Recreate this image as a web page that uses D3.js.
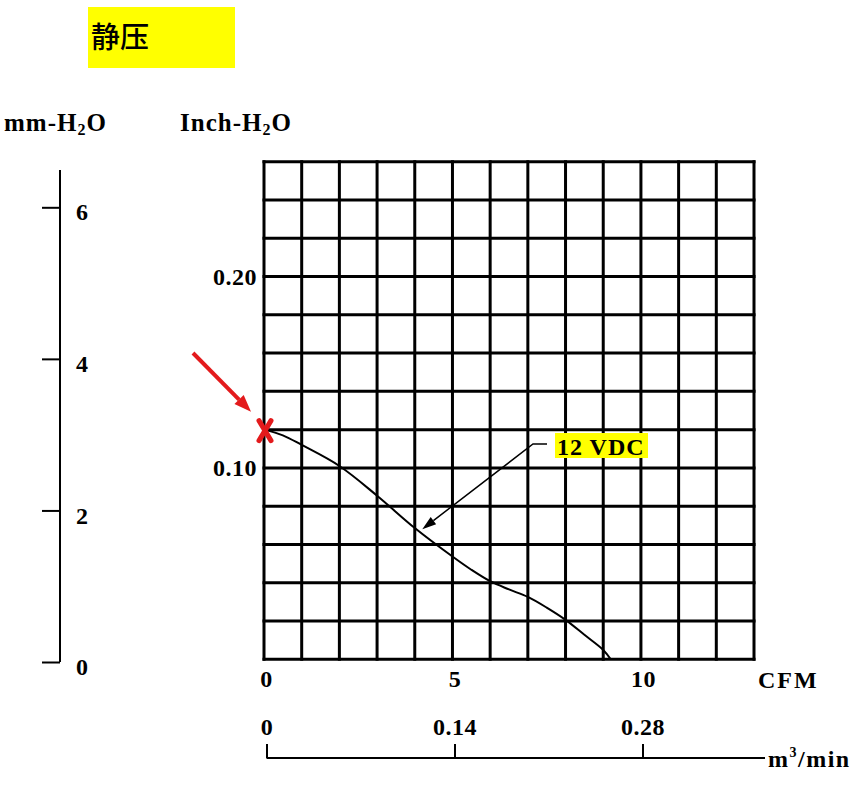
<!DOCTYPE html>
<html><head><meta charset="utf-8">
<script src="https://cdn.jsdelivr.net/npm/d3@7"></script>
<style>body{margin:0;background:#fff}</style>
</head><body>
<svg id="c" width="863" height="800"></svg>
<script>
// ---- data ----
const cfmValues = [0, 0.5, 1, 2, 3, 4, 5, 5.5, 6, 6.5, 7, 7.5, 8, 8.5, 9, 9.2];
const pressureInch = [0.120, 0.117, 0.112, 0.101, 0.0855, 0.0686, 0.0537, 0.0468, 0.0408, 0.0365, 0.0326, 0.0270, 0.0206, 0.0128, 0.0049, 0];
const cfmTicks = [0, 5, 10];
const inchTicks = [0.10, 0.20];
const mmTicks = [0, 2, 4, 6];
const m3Ticks = [0, 0.14, 0.28];
const titleText = "静压";
const seriesLabel = "12 VDC";
const annotPoint = [4.2, 0.068];

// ---- setup ----
const svg = d3.select("#c");
const serif = "'Liberation Serif','Times New Roman',serif";
svg.append("rect").attr("width", 863).attr("height", 800).attr("fill", "#fff");

const x = d3.scaleLinear().domain([0, 13]).range([264, 754]);
const y = d3.scaleLinear().domain([0, 0.26]).range([659.3, 161.7]);
const yMm = d3.scaleLinear().domain([0, 6]).range([662, 207.3]);
const xM3 = d3.scaleLinear().domain([0, 0.28]).range([266.5, 642.5]);

function arrowHead(g, x1, y1, x2, y2, len, wid, color) {
  const a = Math.atan2(y2 - y1, x2 - x1);
  const bx = x2 - len * Math.cos(a), by = y2 - len * Math.sin(a);
  const px = -Math.sin(a) * wid / 2, py = Math.cos(a) * wid / 2;
  g.append("path").attr("d", `M${x2},${y2}L${bx + px},${by + py}L${bx - px},${by - py}Z`).attr("fill", color);
  return [bx, by];
}

// ---- title ----
svg.append("rect").attr("x", 88).attr("y", 7).attr("width", 147).attr("height", 61).attr("fill", "#ffff00");
svg.append("text").attr("x", 91).attr("y", 48).attr("font-family", "'Noto Sans CJK SC'")
  .attr("font-size", 29).attr("font-weight", 500).attr("fill", "#000").text(titleText);

// ---- axis titles ----
function subTitle(xp, main, after) {
  const t = svg.append("text").attr("x", xp).attr("y", 131).attr("font-family", serif)
    .attr("font-size", 25).attr("font-weight", "bold").attr("letter-spacing", 1);
  t.append("tspan").text(main);
  t.append("tspan").attr("dy", 4).attr("font-size", 16).text("2");
  t.append("tspan").attr("dy", -4).text(after);
}
subTitle(4, "mm-H", "O");
subTitle(180, "Inch-H", "O");

// ---- grid ----
const grid = svg.append("g").attr("stroke", "#000").attr("stroke-width", 3).attr("stroke-linecap", "square");
d3.range(0, 14).forEach(i => {
  grid.append("line").attr("x1", x(i)).attr("x2", x(i)).attr("y1", y(0)).attr("y2", y(0.26));
  grid.append("line").attr("y1", y(i * 0.02)).attr("y2", y(i * 0.02)).attr("x1", x(0)).attr("x2", x(13));
});

// ---- curve ----
const pts = cfmValues.map((c, i) => [c, pressureInch[i]]);
svg.append("path").datum(pts)
  .attr("d", d3.line().x(d => x(d[0])).y(d => y(d[1])).curve(d3.curveCatmullRom.alpha(0.5)))
  .attr("fill", "none").attr("stroke", "#000").attr("stroke-width", 2);

// ---- inch axis labels ----
const gInch = svg.append("g").attr("transform", `translate(${x(0)},0)`)
  .call(d3.axisLeft(y).tickValues(inchTicks).tickFormat(d3.format(".2f")).tickSize(0).tickPadding(7));
gInch.select(".domain").remove();
gInch.attr("font-family", serif).attr("font-size", 24).attr("font-weight", "bold");
gInch.selectAll("text").attr("fill", "#000").attr("letter-spacing", 0.5);

// ---- CFM axis labels ----
const gCfm = svg.append("g").attr("transform", `translate(2,${y(0)})`)
  .call(d3.axisBottom(x).tickValues(cfmTicks).tickSize(0).tickPadding(11));
gCfm.select(".domain").remove();
gCfm.attr("font-family", serif).attr("font-size", 24).attr("font-weight", "bold");
gCfm.selectAll("text").attr("fill", "#000").attr("letter-spacing", 0.5);
svg.append("text").attr("x", 758).attr("y", 688).attr("font-family", serif).attr("font-size", 24)
  .attr("font-weight", "bold").attr("letter-spacing", 2).text("CFM");

// ---- mm axis ----
svg.append("line").attr("x1", 60).attr("x2", 60).attr("y1", 170).attr("y2", yMm(0))
  .attr("stroke", "#000").attr("stroke-width", 2);
const gMm = svg.append("g").attr("transform", "translate(60,0)")
  .call(d3.axisRight(yMm).tickValues(mmTicks).tickFormat(d3.format("d"))
    .tickSizeInner(-18).tickSizeOuter(0).tickPadding(16));
gMm.select(".domain").remove();
gMm.attr("font-family", serif).attr("font-size", 24).attr("font-weight", "bold");
gMm.selectAll("line").attr("stroke", "#000").attr("stroke-width", 2);
gMm.selectAll("text").attr("fill", "#000").attr("transform", "translate(0,5)");

// ---- m3/min axis ----
svg.append("line").attr("x1", xM3(0)).attr("x2", 765).attr("y1", 758).attr("y2", 758)
  .attr("stroke", "#000").attr("stroke-width", 2);
const gM3 = svg.append("g").attr("transform", "translate(0,758)")
  .call(d3.axisTop(xM3).tickValues(m3Ticks).tickFormat(d => d === 0 ? "0" : d3.format(".2f")(d))
    .tickSizeInner(14).tickSizeOuter(0).tickPadding(9));
gM3.select(".domain").remove();
gM3.attr("font-family", serif).attr("font-size", 24).attr("font-weight", "bold");
gM3.selectAll("line").attr("stroke", "#000").attr("stroke-width", 2);
gM3.selectAll("text").attr("fill", "#000").attr("letter-spacing", 0.5);
const tm = svg.append("text").attr("x", 768).attr("y", 767).attr("font-family", serif)
  .attr("font-size", 24).attr("font-weight", "bold").attr("letter-spacing", 1.5);
tm.append("tspan").text("m");
tm.append("tspan").attr("dy", -10).attr("font-size", 14).text("3");
tm.append("tspan").attr("dy", 10).text("/min");

// ---- 12 VDC annotation ----
svg.append("rect").attr("x", 555).attr("y", 433).attr("width", 93).attr("height", 25).attr("fill", "#ffff00");
svg.append("text").attr("x", 557).attr("y", 454.5).attr("font-family", serif).attr("font-size", 24)
  .attr("font-weight", "bold").attr("letter-spacing", 1).text(seriesLabel);
const ann = svg.append("g");
const tipX = x(annotPoint[0]), tipY = y(annotPoint[1]);
const [abx, aby] = arrowHead(ann, 533, 444, tipX, tipY, 14, 9, "#000");
ann.append("path").attr("d", `M547,444L533,444L${abx},${aby}`).attr("fill", "none")
  .attr("stroke", "#000").attr("stroke-width", 1.5);

// ---- red start marker and arrow ----
const mx = x(cfmValues[0]) + 1, my = y(pressureInch[0]) + 1;
const red = "#e31a1c";
const mk = svg.append("g").attr("stroke", red).attr("stroke-width", 5).attr("stroke-linecap", "round");
mk.append("line").attr("x1", mx - 6).attr("y1", my - 10).attr("x2", mx + 6).attr("y2", my + 10);
mk.append("line").attr("x1", mx + 6).attr("y1", my - 10).attr("x2", mx - 6).attr("y2", my + 10);
const ra = svg.append("g");
const [rbx, rby] = arrowHead(ra, 193, 353, mx - 14, my - 19, 17, 13, red);
ra.append("line").attr("x1", 193).attr("y1", 353).attr("x2", rbx).attr("y2", rby)
  .attr("stroke", red).attr("stroke-width", 4);
</script>
</body></html>
